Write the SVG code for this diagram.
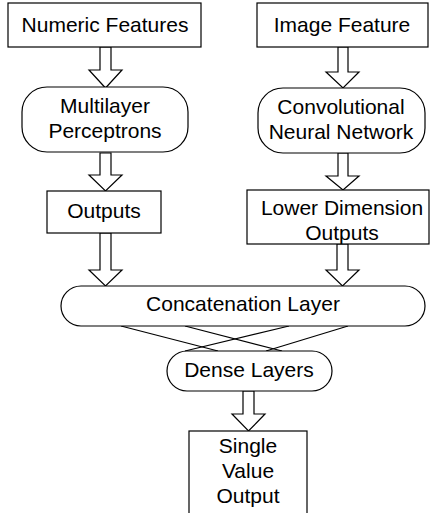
<svg xmlns="http://www.w3.org/2000/svg" width="431" height="513" viewBox="0 0 431 513">
<style>
.box{fill:#fff;stroke:#000;stroke-width:1.2}
.arr{fill:#fff;stroke:#000;stroke-width:1.2;stroke-linejoin:miter}
.ln{stroke:#000;stroke-width:1.2;fill:none}
text{font-family:"Liberation Sans",Arial,sans-serif;font-size:21px;fill:#000;text-anchor:middle}
</style>
<rect width="431" height="513" fill="#fff"/>
<g id="connectors">
<polygon class="arr" points="100,47 111,47 111,70 122,70 105.5,88 89,70 100,70"/>
<polygon class="arr" points="100,153 111,153 111,175 122,175 105.5,191 89,175 100,175"/>
<polygon class="arr" points="100,233 111,233 111,270 122,270 105.5,286 89,270 100,270"/>
<polygon class="arr" points="338,47 348,47 348,72 359,72 343,88 326,72 338,72"/>
<polygon class="arr" points="338,153 348,153 348,176 359,176 343,190 326,176 338,176"/>
<polygon class="arr" points="337,244 348,244 348,270 359,270 342.5,286 326,270 337,270"/>
<line class="ln" x1="121" y1="326" x2="218" y2="351"/>
<line class="ln" x1="185" y1="326" x2="282" y2="351"/>
<line class="ln" x1="289" y1="326" x2="185" y2="351"/>
<line class="ln" x1="348" y1="326" x2="266" y2="351"/>
<polygon class="arr" points="243,391 254,391 254,414 265,414 248.5,431 232,414 243,414"/>
</g>
<g id="numeric">
<rect class="box" x="8" y="3" width="193" height="44"/>
<text x="105" y="32">Numeric Features</text>
</g>
<g id="image">
<rect class="box" x="257" y="3" width="171" height="44"/>
<text x="342" y="32">Image Feature</text>
</g>
<g id="mlp">
<rect class="box" x="22" y="87" width="166" height="65" rx="25" ry="25"/>
<text x="105" y="113">Multilayer</text>
<text x="105" y="138">Perceptrons</text>
</g>
<g id="cnn">
<rect class="box" x="258" y="88" width="167" height="65" rx="25" ry="25"/>
<text x="341" y="114">Convolutional</text>
<text x="341" y="139">Neural Network</text>
</g>
<g id="outputs">
<rect class="box" x="47" y="191" width="114" height="42"/>
<text x="104" y="218">Outputs</text>
</g>
<g id="lowerdim">
<rect class="box" x="247" y="190" width="182" height="54"/>
<text x="342" y="215">Lower Dimension</text>
<text x="342" y="240">Outputs</text>
</g>
<g id="concat">
<rect class="box" x="61" y="286" width="364" height="40" rx="20" ry="20"/>
<text x="243" y="311">Concatenation Layer</text>
</g>
<g id="dense">
<rect class="box" x="167" y="351" width="165" height="40" rx="20" ry="20"/>
<text x="249" y="377">Dense Layers</text>
</g>
<g id="single">
<rect class="box" x="189" y="431" width="118" height="100"/>
<text x="248" y="453">Single</text>
<text x="248" y="478">Value</text>
<text x="248" y="503">Output</text>
</g>
</svg>
